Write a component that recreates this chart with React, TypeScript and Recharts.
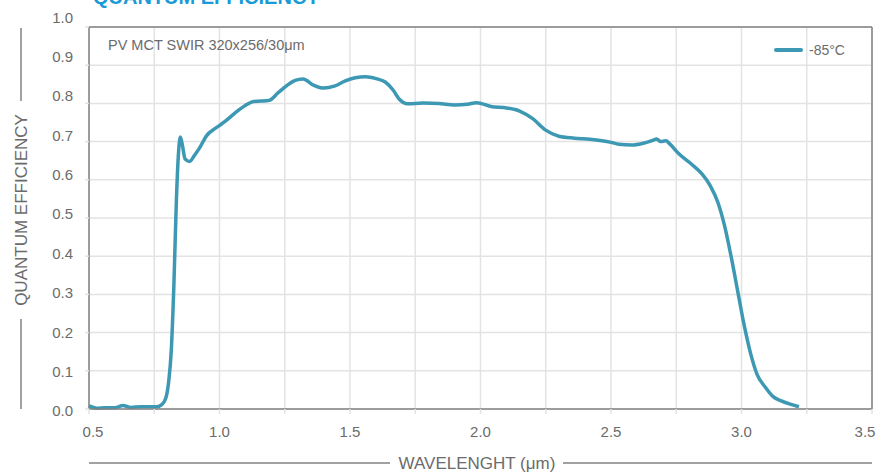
import React from "react";
import {
  LineChart,
  Line,
  XAxis,
  YAxis,
  CartesianGrid,
  ReferenceLine
} from "recharts";

// wavelength in µm
const wavelength = [
  0.5, 0.53, 0.56, 0.6, 0.63, 0.66, 0.7, 0.76, 0.78, 0.795, 0.805, 0.815,
  0.825, 0.835, 0.842, 0.85, 0.858, 0.868, 0.885, 0.905, 0.925, 0.95, 0.985,
  1.02, 1.06, 1.1, 1.13, 1.16, 1.19, 1.225, 1.26, 1.29, 1.32, 1.36, 1.4, 1.44,
  1.48, 1.52, 1.56, 1.6, 1.635, 1.665, 1.69, 1.72, 1.78, 1.84, 1.9, 1.95,
  1.985, 2.04, 2.1, 2.15, 2.2, 2.25, 2.3, 2.36, 2.42, 2.5, 2.53, 2.58, 2.62,
  2.66, 2.675, 2.69, 2.71, 2.725, 2.76, 2.81, 2.85, 2.88, 2.91, 2.935, 2.96,
  2.985, 3.01, 3.035, 3.06, 3.09, 3.12, 3.15, 3.19, 3.22
];

// quantum efficiency at -85°C
const qe85 = [
  0.008, 0.002, 0.003, 0.003, 0.009, 0.004, 0.006, 0.006, 0.012, 0.03, 0.07,
  0.15, 0.32, 0.55, 0.66, 0.712, 0.69, 0.655, 0.648, 0.665, 0.685, 0.715,
  0.735, 0.752, 0.775, 0.795, 0.805, 0.806, 0.808, 0.828, 0.848, 0.86, 0.864,
  0.848, 0.84, 0.845, 0.858, 0.867, 0.87, 0.865, 0.856, 0.835, 0.81, 0.799,
  0.801, 0.8, 0.796, 0.798, 0.802, 0.792, 0.788, 0.78, 0.76, 0.73, 0.714,
  0.709, 0.706, 0.698, 0.693, 0.691, 0.695, 0.703, 0.707, 0.7, 0.702, 0.694,
  0.668, 0.64, 0.614, 0.585, 0.54, 0.48, 0.4, 0.31, 0.22, 0.145, 0.09, 0.058,
  0.033, 0.022, 0.012, 0.006
];

const xTicks = [
  0.5, 0.75, 1.0, 1.25, 1.5, 1.75, 2.0, 2.25, 2.5, 2.75, 3.0, 3.25, 3.5
];
const yTicks = [0, 0.1, 0.2, 0.3, 0.4, 0.5, 0.6, 0.7, 0.8, 0.9, 1.0];

const data = wavelength.map((w, i) => ({ w, qe: qe85[i] }));

const FONT = "Liberation Sans, Arial, sans-serif";
const TEXT = "#6b6b6b";
const LINE = "#3d98b3";
const GRID = "#e3e3e3";
const BOX = "#828282";

const XTick = (props: any) => {
  const { x, y, payload } = props;
  const v = payload.value;
  if (Math.abs(v * 2 - Math.round(v * 2)) > 1e-6) return null;
  let dx = 0;
  if (v === 0.5) dx = 4;
  if (v === 3.5) dx = -7;
  return (
    <text x={x + dx} y={y} dy="0.71em" textAnchor="middle" fill={TEXT}
      fontSize={15} fontFamily={FONT}>
      {v.toFixed(1)}
    </text>
  );
};

const YTick = (props: any) => {
  const { x, y, payload } = props;
  const v = payload.value;
  return (
    <text x={x} y={y + 2 - v * 11.7} dy="0.355em" textAnchor="end" fill={TEXT}
      fontSize={15} fontFamily={FONT}>
      {v.toFixed(1)}
    </text>
  );
};

export default function App() {
  return (
    <div style={{ position: "absolute", left: 0, top: 0, width: 887, height: 473, background: "#fff" }}>
      <LineChart width={887} height={473} data={data}
        margin={{ top: 27, right: 15, bottom: 34, left: 29 }}>
        <CartesianGrid stroke={GRID} strokeWidth={1.5}
          horizontalValues={yTicks} verticalValues={xTicks} />
        <XAxis dataKey="w" type="number" domain={[0.5, 3.5]} ticks={xTicks}
          height={30} tickSize={5} tickMargin={12} interval={0}
          axisLine={{ stroke: BOX, strokeWidth: 1.5 }}
          tickLine={{ stroke: GRID, strokeWidth: 1.5 }} tick={<XTick />} />
        <YAxis type="number" domain={[0, 1]} ticks={yTicks} width={60}
          tickSize={4} tickMargin={12} interval={0}
          axisLine={{ stroke: BOX, strokeWidth: 1.5 }}
          tickLine={{ stroke: GRID, strokeWidth: 1.5 }} tick={<YTick />} />
        <ReferenceLine y={1} stroke={BOX} strokeWidth={1.5} />
        <ReferenceLine x={3.5} stroke={BOX} strokeWidth={1.5} />
        <Line type="monotone" dataKey="qe" name="-85°C" stroke={LINE} strokeWidth={3.5}
          dot={false} activeDot={false} isAnimationActive={false} />
      </LineChart>
      <svg width={887} height={473}
        style={{ position: "absolute", left: 0, top: 0, pointerEvents: "none" }}>
        <text x={93} y={4} fill="#1a9ad6" fontSize={20} fontWeight="bold" fontFamily={FONT}>
          QUANTUM EFFICIENCY
        </text>
        <text x={108} y={50} fill={TEXT} fontSize={14.5} fontFamily={FONT}>
          PV MCT SWIR 320x256/30μm
        </text>
        {/* legend */}
        <line x1={776} y1={50} x2={801} y2={50} stroke={LINE} strokeWidth={4} strokeLinecap="round" />
        <text x={809} y={50} dominantBaseline="central" fill={TEXT} fontSize={14} fontFamily={FONT}>
          -85°C
        </text>
        <line x1={21} y1={28} x2={21} y2={101} stroke={BOX} strokeWidth={1.5} />
        <line x1={21} y1={319} x2={21} y2={409} stroke={BOX} strokeWidth={1.5} />
        <text x={21} y={210} transform="rotate(-90 21 210)" textAnchor="middle"
          dominantBaseline="central" fill={TEXT} fontSize={17} fontFamily={FONT}>
          QUANTUM EFFICIENCY
        </text>
        <line x1={89} y1={463} x2={390} y2={463} stroke={BOX} strokeWidth={1.5} />
        <line x1={563} y1={463} x2={872} y2={463} stroke={BOX} strokeWidth={1.5} />
        <text x={477} y={463} textAnchor="middle" dominantBaseline="central"
          fill={TEXT} fontSize={17} fontFamily={FONT}>
          WAVELENGHT (μm)
        </text>
      </svg>
    </div>
  );
}
